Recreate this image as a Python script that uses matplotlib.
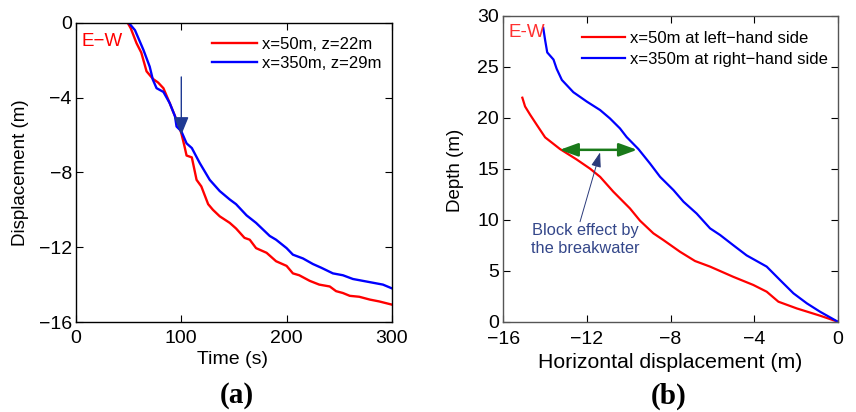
import matplotlib
matplotlib.use("Agg")
import matplotlib.pyplot as plt

plt.rcParams['font.family'] = ['Liberation Sans', 'DejaVu Sans']

# panel (a): displacement time histories
time_red = [0, 49, 52, 57.5, 62, 67, 73, 78, 83, 89, 95.5, 100, 103, 105, 110, 114.5,
            119, 125.5, 130, 136.5, 146, 152, 160, 165, 171, 181, 190, 200, 206, 212,
            222, 231, 241, 247, 253.5, 260, 269, 279, 288, 300]
disp_red = [0, 0, -0.3, -1.1, -1.6, -2.6, -3.0, -3.2, -3.5, -4.3, -5.2, -5.9, -6.6, -7.1,
            -7.2, -8.4, -8.75, -9.7, -10.0, -10.35, -10.7, -11.0, -11.5, -11.6, -12.05,
            -12.3, -12.75, -13.0, -13.4, -13.5, -13.8, -14.0, -14.1, -14.35, -14.45,
            -14.6, -14.65, -14.8, -14.9, -15.07]
time_blue = [0, 50, 56, 64, 70, 73, 76.5, 83, 89, 94, 95.5, 100, 105, 110, 117.5, 127,
             136.5, 146, 152, 162, 171, 184, 190, 200, 206, 215.5, 225, 233, 244, 253.5,
             263, 272.5, 282, 291.5, 300]
disp_blue = [0, 0, -0.4, -1.45, -2.35, -3.05, -3.5, -3.7, -4.3, -5.0, -5.55, -5.8, -6.45,
             -6.7, -7.5, -8.4, -9.0, -9.45, -9.7, -10.3, -10.7, -11.4, -11.6, -12.05,
             -12.4, -12.6, -12.9, -13.1, -13.4, -13.5, -13.7, -13.8, -13.9, -14.0, -14.2]

# panel (b): horizontal displacement profiles
hd_red = [-15.09, -14.96, -14.72, -14.4, -14.0, -13.29, -12.49, -11.85, -11.37, -10.74,
          -9.94, -9.46, -8.82, -8.34, -7.55, -6.83, -6.11, -5.0, -4.04, -3.4, -2.84,
          -1.96, -0.85, 0]
depth_red = [21.96, 21.1, 20.3, 19.3, 18.07, 16.93, 15.9, 15.0, 14.2, 12.75, 11.1, 9.9,
             8.66, 8.0, 6.86, 5.95, 5.4, 4.4, 3.6, 2.94, 1.96, 1.3, 0.59, 0]
hd_blue = [-14.09, -14.0, -13.9, -13.6, -13.45, -13.2, -12.65, -12.0, -11.37, -10.9,
           -10.42, -10.1, -9.54, -8.98, -8.5, -7.86, -7.38, -6.75, -6.11, -5.63, -5.0,
           -4.36, -3.4, -2.76, -2.12, -1.48, -0.85, 0]
depth_blue = [28.8, 27.6, 26.4, 25.7, 24.8, 23.7, 22.5, 21.57, 20.75, 19.93, 18.95, 18.1,
              16.93, 15.5, 14.2, 12.9, 11.76, 10.6, 9.15, 8.5, 7.5, 6.5, 5.4, 4.08, 2.78,
              1.8, 0.98, 0]

labels_a = ['x=50m, z=22m', 'x=350m, z=29m']
labels_b = ['x=50m at left\u2212hand side', 'x=350m at right\u2212hand side']

RED = '#ff0000'
BLUE = '#0000ff'


def style_axes(ax, xpad=5.5):
    ax.tick_params(direction='in', top=True, right=True, length=5, width=0.8,
                   labelsize=14)
    ax.tick_params(axis='x', pad=xpad)
    ax.tick_params(axis='y', pad=3)
    for sp in ax.spines.values():
        sp.set_linewidth(1.0)


fig = plt.figure(figsize=(8.56, 4.12), dpi=100)

# ---- (a)
ax1 = fig.add_axes([0.0888, 0.2184, 0.369, 0.7265])
ax1.plot(time_red, disp_red, color=RED, lw=1.7, label=labels_a[0])
ax1.plot(time_blue, disp_blue, color=BLUE, lw=1.7, label=labels_a[1])
ax1.set_xlim(0, 300)
ax1.set_ylim(-16, 0)
ax1.set_xticks([0, 100, 200, 300])
ax1.set_yticks([0, -4, -8, -12, -16])
style_axes(ax1)
ax1.set_xlabel('Time (s)', fontsize=14)
ax1.set_ylabel('Displacement (m)', fontsize=13.5)
ax1.xaxis.set_label_coords(0.497, -0.097)
ax1.yaxis.set_label_coords(-0.148, 0.5)
ax1.text(5.4, -1.0, 'E\u2212W', color=RED, fontsize=13.5, va='center')
ax1.legend(loc='upper right', bbox_to_anchor=(0.968, 0.952), frameon=False,
           fontsize=12, handlelength=2.7, handletextpad=0.3, borderpad=0,
           borderaxespad=0, labelspacing=0.25)
ax1.annotate('', xy=(100, -6.0), xytext=(100, -2.9),
             arrowprops=dict(arrowstyle='-|>,head_length=1.1,head_width=0.45',
                             color='#1f3a93', lw=1.0, shrinkA=0, shrinkB=0))

# ---- (b)
ax2 = fig.add_axes([0.588, 0.2192, 0.3907, 0.7427])
ax2.plot(hd_red, depth_red, color=RED, lw=1.6, label=labels_b[0])
ax2.plot(hd_blue, depth_blue, color=BLUE, lw=1.6, label=labels_b[1])
ax2.set_xlim(-16, 0)
ax2.set_ylim(0, 30)
ax2.set_xticks([-16, -12, -8, -4, 0])
ax2.set_yticks([0, 5, 10, 15, 20, 25, 30])
style_axes(ax2, xpad=7)
for sp in ax2.spines.values():
    sp.set_color('#555555')
ax2.set_xlabel('Horizontal displacement (m)', fontsize=15.3)
ax2.set_ylabel('Depth (m)', fontsize=13.5)
ax2.xaxis.set_label_coords(0.4985, -0.1007)
ax2.yaxis.set_label_coords(-0.117, 0.496)
ax2.text(-15.76, 28.4, 'E-W', color='#ff3030', fontsize=13.5, va='center')
ax2.legend(loc='upper right', bbox_to_anchor=(0.971, 0.95), frameon=False,
           fontsize=12, handlelength=2.6, handletextpad=0.3, borderpad=0,
           borderaxespad=0, labelspacing=0.35)
ax2.annotate('', xy=(-13.3, 16.85), xytext=(-9.6, 16.85),
             arrowprops=dict(arrowstyle='<|-|>,head_length=1.1,head_width=0.4',
                             color='#1a7a1a', lw=1.8, shrinkA=0, shrinkB=0))
ax2.annotate('', xy=(-11.37, 16.6), xytext=(-12.33, 9.8),
             arrowprops=dict(arrowstyle='-|>,head_length=0.9,head_width=0.3',
                             color='#2a3a7a', lw=0.7, shrinkA=0, shrinkB=0))
ax2.text(-12.07, 8.1, 'Block effect by\nthe breakwater', color='#34478a',
         fontsize=11.8, ha='center', va='center', linespacing=1.25)

fig.text(0.277, 0.039, '(a)', fontsize=21, fontweight='bold',
         family='Liberation Serif', ha='center', va='center')
fig.text(0.781, 0.039, '(b)', fontsize=21, fontweight='bold',
         family='Liberation Serif', ha='center', va='center')

fig.savefig('out.png', dpi=100)
